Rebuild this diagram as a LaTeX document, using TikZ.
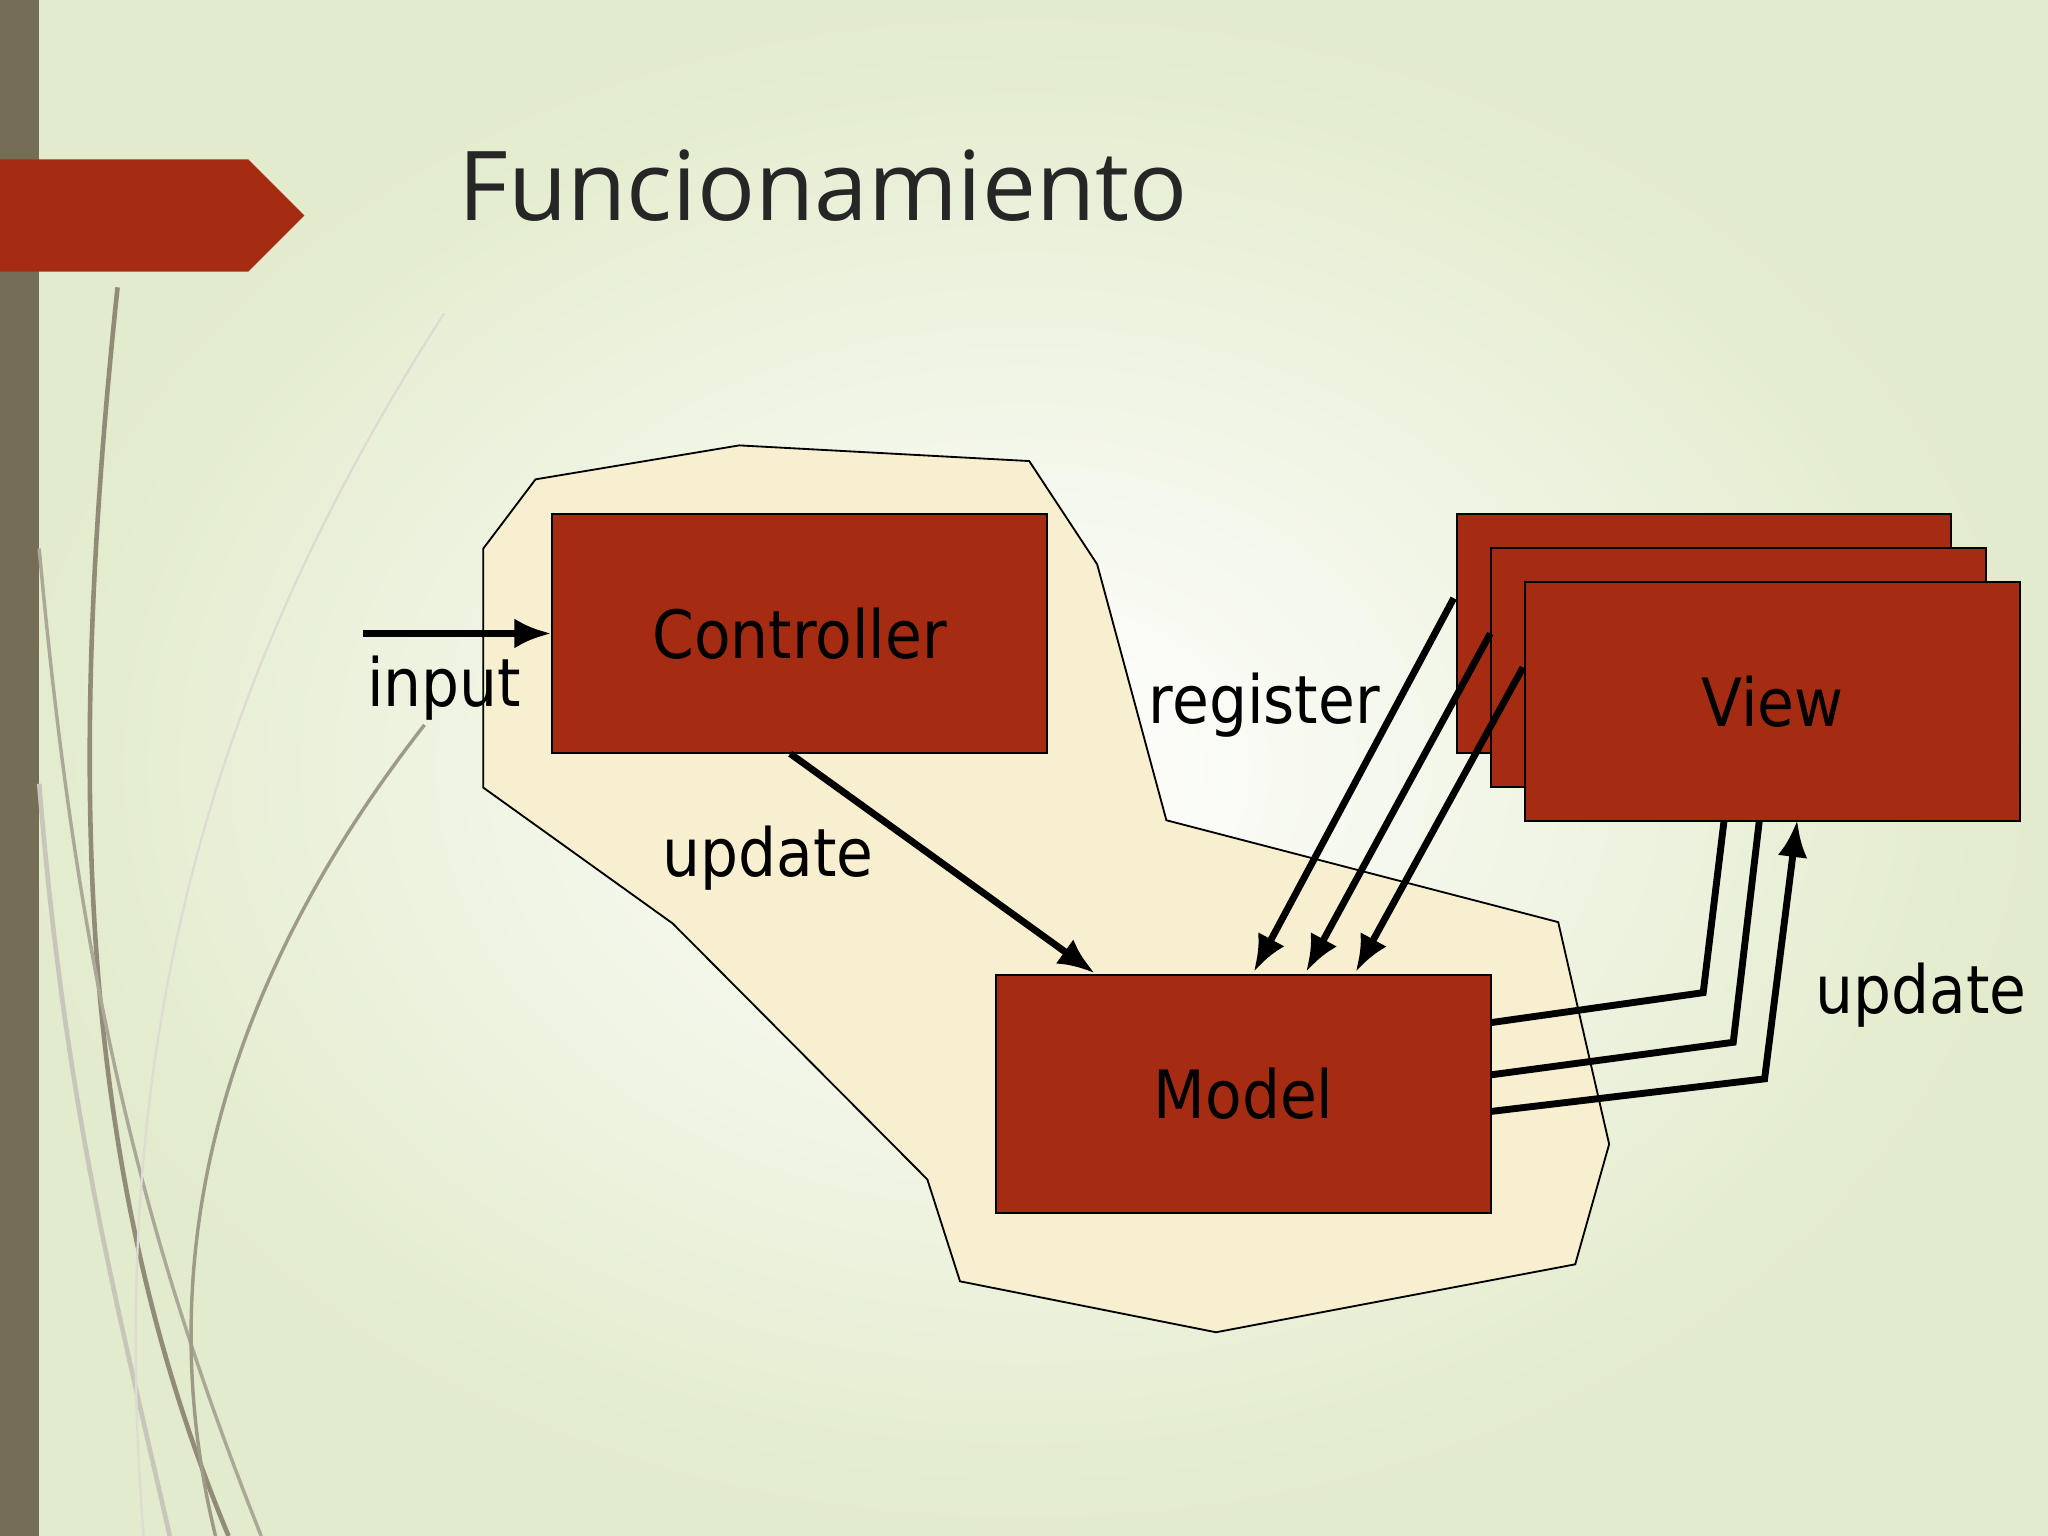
\documentclass[tikz,border=0pt]{standalone}
\usepackage{fontspec}
\setmainfont{DejaVu Sans Condensed}
\newfontfamily\titlefont{Open Sans}
\usetikzlibrary{arrows.meta}
\definecolor{boxred}{HTML}{A52C12}
\definecolor{cream}{HTML}{F7EFCF}
\definecolor{olive}{HTML}{756E55}
\definecolor{bgg}{HTML}{E2EBCB}
\tikzset{
 redbox/.style={draw=black,fill=boxred,line width=0.8pt},
 lbl/.style={font=\fontsize{29}{32}\selectfont},
 arr/.style={line width=3pt,-{Latex[length=16pt,width=13pt]}},
 ln/.style={line width=3pt}
}
\begin{document}
\begin{tikzpicture}[x=0.02cm,y=-0.02cm]
\useasboundingbox (0,0) rectangle (1568,1176);
\shade[inner color=white,outer color=bgg] (0,0) rectangle (1568,1176);
\fill[olive] (0,0) rectangle (30,1176);
% decorative curves
\draw[olive!80,line width=2pt] (90,220) .. controls (50,600) and (60,900) .. (175,1176);
\draw[olive!60,line width=1.5pt] (30,420) .. controls (60,750) and (110,950) .. (200,1176);
\draw[olive!40,line width=2pt] (30,600) .. controls (50,850) and (90,1000) .. (130,1176);
\draw[olive!70,line width=1.5pt] (325,555) .. controls (180,740) and (110,950) .. (165,1176);
\draw[olive!25,line width=1pt] (340,240) .. controls (160,520) and (80,800) .. (110,1176);
\fill[boxred] (0,122) -- (190,122) -- (233,165) -- (190,208) -- (0,208) -- cycle;
\node[anchor=west,font=\titlefont\fontsize{42}{48}\selectfont,text=black!85] (title) at (345,142) {Funcionamiento};
% blob
\draw[fill=cream,line width=0.8pt] (370,420) -- (410,367) -- (566,341) -- (788,353) -- (840,432) -- (893,628) -- (1193,706) -- (1232,876) -- (1206,968) -- (931,1020) -- (735,981) -- (710,903) -- (515,707) -- (370,603) -- cycle;
\node[redbox,anchor=north west,inner sep=0,minimum width=7.58cm,minimum height=3.66cm,lbl] (ctrl) at (422,393) {Controller};
\node[redbox,anchor=north west,inner sep=0,minimum width=7.58cm,minimum height=3.64cm,lbl] (model) at (762,746) {Model};
\node[redbox,anchor=north west,inner sep=0,minimum width=7.56cm,minimum height=3.66cm] (v1) at (1115,393) {};
\node[redbox,anchor=north west,inner sep=0,minimum width=7.58cm,minimum height=3.66cm] (v2) at (1141,419) {};
\node[redbox,anchor=north west,inner sep=0,minimum width=7.58cm,minimum height=3.66cm,lbl] (v3) at (1167,445) {View};
% arrows
\coordinate (in) at (278,485);
\draw[arr] (in) -- (in -| ctrl.west);
\draw[arr] (605,577) -- (838,745);
\draw[arr] (1113,458) -- (960,744);
\draw[arr] (1141,485) -- (1000,744);
\draw[arr] (1166,511) -- (1038,744);
\draw[ln] (1141,783) -- (1304,760) -- (1320,628);
\draw[ln] (1141,823) -- (1327,798) -- (1347,628);
\draw[arr] (1141,851) -- (1351,826) -- (1376,628);
\node[lbl] (lin) at (340,527) {input};
\node[lbl] (lup) at (588,657) {update};
\node[lbl] (lreg) at (968,540) {register};
\node[lbl] (lup2) at (1471,762) {update};
\end{tikzpicture}
\end{document}
